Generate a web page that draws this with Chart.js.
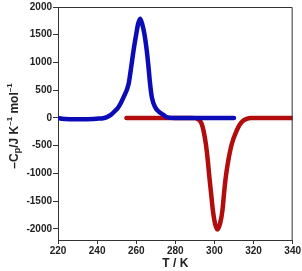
<!DOCTYPE html>
<html>
<head>
<meta charset="utf-8">
<script src="https://cdn.jsdelivr.net/npm/chart.js@4.4.0/dist/chart.umd.min.js"></script>
<style>
  html, body { margin: 0; padding: 0; background: #fff; }
  #wrap { width: 302px; height: 271px; }
</style>
</head>
<body>
<div id="wrap"><canvas id="cpChart" width="302" height="271"></canvas></div>
<script>
// cooling run (blue) - T in K, -Cp in J/K/mol
var coolT  = [220, 222, 226, 232, 238, 241, 243, 245, 247, 249, 251, 253.5, 256.1, 257.4, 258.6, 260, 261, 262, 263, 264.2, 265.4, 266.3, 267.1, 268, 269.7, 271.5, 273.9, 276, 280, 290, 300, 310];
var coolCp = [0, -15, -22, -22, -18, -12, -5, 15, 55, 120, 200, 372, 612, 910, 1210, 1510, 1700, 1790, 1700, 1510, 1210, 910, 612, 372, 192, 115, 55, 10, 0, 0, 0, 0];

// heating run (red)
var heatT  = [255, 260, 270, 280, 288, 290, 291.5, 292.5, 293.5, 294.4, 295.6, 296.6, 297.4, 298.3, 299.2, 300.3, 301.5, 302.9, 304.1, 304.9, 305.8, 307.1, 308.9, 311.4, 313, 314.8, 316.5, 318.5, 325, 330, 340];
var heatCp = [0, 0, 0, 0, 0, -3, -20, -50, -110, -226, -465, -765, -1065, -1363, -1663, -1901, -2010, -1901, -1663, -1363, -1065, -765, -465, -226, -120, -47, -15, 0, 0, 0, 0];

var xTicks = [220, 240, 260, 280, 300, 320, 340];
var yTicks = [-2000, -1500, -1000, -500, 0, 500, 1000, 1500, 2000];

function toPoints(xs, ys) {
    var pts = [];
    for (var i = 0; i < xs.length; i++) {
        pts.push({ x: xs[i], y: ys[i] });
    }
    return pts;
}

var tickFont = { family: 'Liberation Sans', size: 10, weight: 'bold' };

// frame around plot + axis titles
var extras = {
    id: 'extras',
    afterDraw: function(chart) {
        var ctx = chart.ctx;
        var a = chart.chartArea;
        ctx.save();
        ctx.strokeStyle = '#333';
        ctx.lineWidth = 1;
        ctx.beginPath();
        ctx.moveTo(a.left, a.top + 0.5);
        ctx.lineTo(a.right - 0.5, a.top + 0.5);
        ctx.lineTo(a.right - 0.5, a.bottom);
        ctx.stroke();

        ctx.fillStyle = '#222';
        ctx.font = 'bold 12px "Liberation Sans"';
        ctx.textAlign = 'center';
        ctx.textBaseline = 'middle';
        ctx.fillText('T / K', (a.left + a.right) / 2, 264);

        // y title with sub/superscripts
        var parts = [
            { t: '\u2013C', s: 12, dy: 0 },
            { t: 'p', s: 9, dy: 3 },
            { t: '/J K', s: 12, dy: 0 },
            { t: '\u20131', s: 8, dy: -5 },
            { t: ' mol', s: 12, dy: 0 },
            { t: '\u20131', s: 8, dy: -5 }
        ];
        var total = 0;
        parts.forEach(function(p) {
            ctx.font = 'bold ' + p.s + 'px "Liberation Sans"';
            p.w = ctx.measureText(p.t).width;
            total += p.w;
        });
        ctx.translate(15, 126);
        ctx.rotate(-Math.PI / 2);
        ctx.textAlign = 'left';
        var x = -total / 2;
        parts.forEach(function(p) {
            ctx.font = 'bold ' + p.s + 'px "Liberation Sans"';
            ctx.fillText(p.t, x, p.dy);
            x += p.w;
        });
        ctx.restore();
    }
};

var ctx1 = document.getElementById('cpChart').getContext('2d');
var cpChart = new Chart(ctx1, {
    type: 'line',
    data: {
        datasets: [{
            label: 'cooling',
            data: toPoints(coolT, coolCp),
            borderColor: '#0b0bb8',
            borderWidth: 4.5,
            borderCapStyle: 'round',
            borderJoinStyle: 'round',
            pointRadius: 0,
            cubicInterpolationMode: 'monotone',
            fill: false
        }, {
            label: 'heating',
            data: toPoints(heatT, heatCp),
            borderColor: '#b30c0c',
            borderWidth: 4.5,
            borderCapStyle: 'round',
            borderJoinStyle: 'round',
            pointRadius: 0,
            cubicInterpolationMode: 'monotone',
            fill: false
        }]
    },
    options: {
        responsive: false,
        animation: false,
        layout: { padding: { top: 6, right: 9, left: 0, bottom: 0 } },
        plugins: {
            legend: { display: false },
            tooltip: { enabled: false }
        },
        scales: {
            x: {
                type: 'linear',
                min: 220,
                max: 340,
                afterBuildTicks: function(s) { s.ticks = xTicks.map(function(v) { return { value: v }; }); },
                afterFit: function(s) { s.height = 31; },
                grid: { drawOnChartArea: false, drawTicks: true, tickLength: 4, color: '#333' },
                border: { display: true, color: '#333', width: 1 },
                ticks: { font: tickFont, color: '#222', padding: 1, maxRotation: 0,
                         callback: function(v) { return String(v); } }
            },
            y: {
                type: 'linear',
                min: -2200,
                max: 2000,
                afterBuildTicks: function(s) { s.ticks = yTicks.map(function(v) { return { value: v }; }); },
                afterFit: function(s) { s.width = 58; },
                grid: { drawOnChartArea: false, drawTicks: true, tickLength: 5, color: '#333' },
                border: { display: true, color: '#333', width: 1 },
                ticks: { font: tickFont, color: '#222', padding: 1,
                         callback: function(v) { return String(v); } }
            }
        }
    },
    plugins: [extras]
});
</script>
</body>
</html>
